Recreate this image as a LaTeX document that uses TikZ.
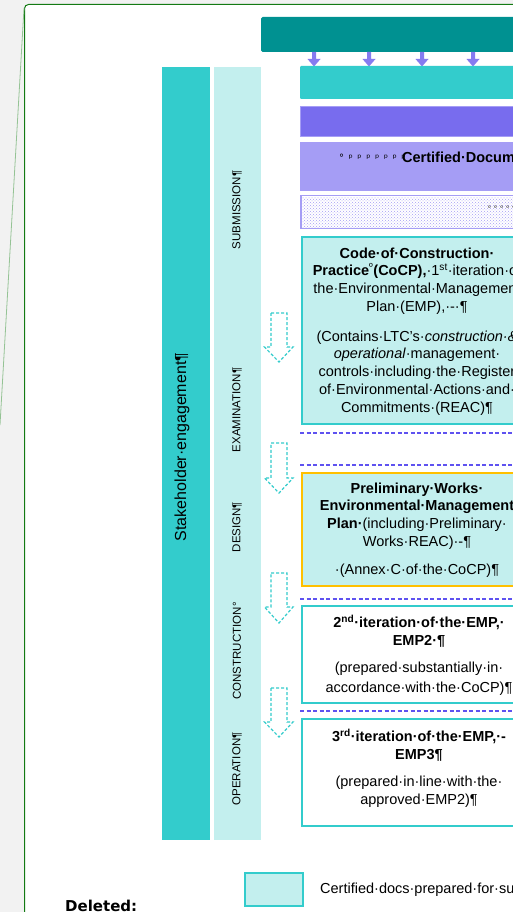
\documentclass[tikz,border=0pt]{standalone}
\usepackage{fontspec}
\setmainfont{Liberation Sans}
\newfontfamily\djv{DejaVu Sans}
\newfontfamily\djvspaced[LetterSpace=45]{DejaVu Sans}
\usetikzlibrary{patterns}
\definecolor{dteal}{HTML}{009191}
\definecolor{tealc}{HTML}{33CCCC}
\definecolor{lteal}{HTML}{C3EFEE}
\definecolor{purpc}{HTML}{786CEE}
\definecolor{lpurp}{HTML}{A59DF5}
\definecolor{sepc}{HTML}{5F52F0}
\definecolor{pagegreen}{HTML}{137A13}
\definecolor{bggray}{HTML}{F2F2F2}
\definecolor{orangec}{HTML}{FFC000}
\tikzset{
  docbox/.style={draw=tealc, line width=2pt, fill=lteal},
  bodytxt/.style={align=center, font=\fontsize{14.5}{17.8}\selectfont, inner sep=0pt},
  phasetxt/.style={rotate=90, inner sep=0pt, font=\fontsize{11.5}{13}\selectfont},
  dasharrow/.style={draw=tealc, line width=1.2pt, dash pattern=on 3pt off 2pt, fill=white, line join=miter},
  sepline/.style={draw=sepc, line width=1.1pt, dash pattern=on 4pt off 2.5pt},
}
\begin{document}
\begin{tikzpicture}[x=1pt,y=-1pt]
\useasboundingbox (0,0) rectangle (513,912);
\clip (0,0) rectangle (513,912);
% background and page
\fill[bggray] (0,0) rectangle (513,912);
\fill[white, rounded corners=4pt] (24.5,914) -- (24.5,4.5) -- (515,4.5) -- (515,914) -- cycle;
\draw[pagegreen, line width=1pt, rounded corners=4pt] (24.5,914) -- (24.5,4.5) -- (515,4.5);
\draw[pagegreen!45, line width=0.8pt] (24,8) -- (0,425);
% top bars
\fill[dteal, rounded corners=1.5pt] (261,17) rectangle (520,52);
\foreach \ax in {314,369,422,473}{
  \fill[purpc!90] (\ax-2,52) -- (\ax+2,52) -- (\ax+2,59) -- (\ax+6.5,59) -- (\ax,66.5) -- (\ax-6.5,59) -- (\ax-2,59) -- cycle;
}
\fill[tealc, rounded corners=1pt] (300,66) rectangle (520,99);
\draw[lpurp, line width=1.5pt, fill=purpc] (300.5,106.5) rectangle (520,136.5);
\fill[lpurp] (300,142) rectangle (520,191);
\node[anchor=base west, inner sep=0pt, font=\djvspaced\fontsize{10}{11}\selectfont] (marks1) at (339,162) {°ᵖᵖᵖᵖᵖᵖᵖ};
\node[anchor=base west, inner sep=0pt, font=\bfseries\fontsize{14.5}{17}\selectfont] (certdoc) at (402,163) {Certified·Docum};
\draw[lpurp, line width=1.5pt, fill=white] (301,195.5) rectangle (520,228.5);
\fill[pattern=crosshatch dots, pattern color=lpurp] (302,197) rectangle (520,227);
\node[anchor=base west, inner sep=0pt, font=\djvspaced\fontsize{7}{8}\selectfont] (marks2) at (488,211) {ᵒᵒᵒᵒᵒ};
% side bars
\fill[tealc] (162,67) rectangle (210,840);
\fill[lteal] (214,67) rectangle (261,840);
\node[rotate=90, inner sep=0pt, font=\fontsize{16}{18}\selectfont] (stake) at (182,447) {Stakeholder·engagement¶};
\node[phasetxt] (ph1) at (237,210) {SUBMISSION¶};
\node[phasetxt] (ph2) at (237,410) {EXAMINATION¶};
\node[phasetxt] (ph3) at (237,527) {DESIGN¶};
\node[phasetxt] (ph4) at (237,651) {CONSTRUCTION°};
\node[phasetxt] (ph5) at (237,769) {OPERATION¶};
% dashed block arrows
\foreach \t/\b/\p in {313/347/362, 443/478/493, 573/607/623, 688/722/737}{
  \draw[dasharrow] (271,\t) -- (287,\t) -- (287,\b) -- (293,\b) -- (279,\p) -- (264.5,\b) -- (271,\b) -- cycle;
}
% separators
\foreach \yy in {433,465,599,711}{
  \draw[sepline] (300,\yy) -- (513,\yy);
}
% box 1
\draw[docbox] (302,237) rectangle (532,424);
\node[bodytxt] (b1a) at (417,281) {\textbf{Code·of·Construction·}\\\textbf{Practice}\textsuperscript{º}\textbf{(CoCP),}·1\textsuperscript{st}·iteration·of\\the·Environmental·Management\\Plan·(EMP),·-·¶};
\node[bodytxt] (b1b) at (417,373) {(Contains·LTC’s·\textit{construction·\&}\\\textit{operational}·management·\\controls·including·the·Register\\of·Environmental·Actions·and·\\Commitments·(REAC)¶};
% box 2
\draw[docbox, draw=orangec] (302,473) rectangle (532,586);
\node[bodytxt] (b2a) at (417,516) {\textbf{Preliminary·Works·}\\\textbf{Environmental·Management}\\\textbf{Plan·}(including·Preliminary·\\Works·REAC)·-¶};
\node[bodytxt] (b2b) at (417,571) {·(Annex·C·of·the·CoCP)¶};
% box 3
\draw[docbox, fill=white] (302,606) rectangle (532,703);
\node[bodytxt] (b3a) at (419,631) {\textbf{2\textsuperscript{nd}·iteration·of·the·EMP,·}\\\textbf{EMP2·¶}};
\node[bodytxt, font=\fontsize{14.5}{20}\selectfont] (b3b) at (419,679) {(prepared·substantially·in·\\accordance·with·the·CoCP)¶};
% box 4
\draw[docbox, fill=white] (302,719) rectangle (532,826);
\node[bodytxt] (b4a) at (419,745) {\textbf{3\textsuperscript{rd}·iteration·of·the·EMP,·-}\\\textbf{EMP3¶}};
\node[bodytxt] (b4b) at (419,792) {(prepared·in·line·with·the·\\approved·EMP2)¶};
% legend
\draw[docbox] (245,873) rectangle (303,906);
\node[anchor=west, inner sep=0pt, font=\fontsize{14.5}{16}\selectfont] (legtxt) at (320,890) {Certified·docs·prepared·for·submission};
\node[anchor=base west, inner sep=0pt, font=\djv\bfseries\fontsize{15}{17}\selectfont] (deleted) at (65,911) {Deleted:};
\end{tikzpicture}
\end{document}
